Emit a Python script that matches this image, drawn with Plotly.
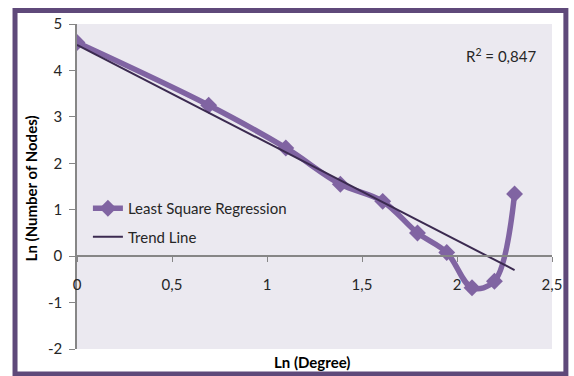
import plotly.graph_objects as go

# Data
ln_degree = [0.0, 0.693, 1.099, 1.386, 1.609, 1.792, 1.946, 2.079, 2.197, 2.303]
ln_nodes = [4.60, 3.25, 2.33, 1.55, 1.18, 0.50, 0.08, -0.68, -0.54, 1.34]
trend_x = [0.0, 2.303]
trend_y = [4.55, -0.30]
r2_text = "R<sup>2</sup> = 0,847"
series_names = ["Least Square Regression", "Trend Line"]
x_title = "Ln (Degree)"
y_title = "Ln (Number of Nodes)"
x_ticks = [0, 0.5, 1, 1.5, 2, 2.5]
x_ticklabels = ["0", "0,5", "1", "1,5", "2", "2,5"]
y_ticks = [-2, -1, 0, 1, 2, 3, 4, 5]
y_ticklabels = ["-2", "-1", "0", "1", "2", "3", "4", "5"]

FONT = "Lato"
PURPLE = "#8064a2"
DARK = "#3b2a50"
FRAME = "#5f497a"
AXIS = "#868686"
TXT = "#262626"

W, H = 574, 376
ML, MR, MT, MB = 77, 18, 24, 27
pw, ph = W - ML - MR, H - MT - MB

def px2x(p):
    return (p - ML) / pw

def px2y(p):
    return (H - MB - p) / ph

fig = go.Figure()
fig.add_trace(go.Scatter(
    x=ln_degree, y=ln_nodes, name=series_names[0], mode="lines+markers",
    line=dict(color=PURPLE, width=5.5, shape="spline", smoothing=1),
    marker=dict(symbol="diamond", size=13, color=PURPLE),
    legendgroup="a",
))
fig.add_trace(go.Scatter(
    x=trend_x, y=trend_y, name=series_names[1], mode="lines",
    line=dict(color=DARK, width=2),
    legendgroup="b",
))

fig.update_layout(
    width=W, height=H,
    margin=dict(l=ML, r=MR, t=MT, b=MB),
    paper_bgcolor="white",
    plot_bgcolor="#ebe9f0",
    font=dict(family=FONT, size=15, color=TXT),
    showlegend=True,
    legend=dict(
        x=px2x(88), y=px2y(192), xanchor="left", yanchor="top",
        bgcolor="rgba(0,0,0,0)", font=dict(size=15, color=TXT),
        traceorder="grouped", tracegroupgap=6,
    ),
    xaxis=dict(
        range=[0, 2.5], tickvals=x_ticks, ticktext=x_ticklabels,
        anchor="free", position=px2y(256),
        showline=True, linecolor=AXIS, linewidth=1.5,
        ticks="outside", ticklen=5, tickcolor=AXIS,
        showgrid=False, zeroline=False,
        ticklabelstandoff=10,
        tickfont=dict(size=15, color=TXT),
    ),
    yaxis=dict(
        range=[-2, 5], tickvals=y_ticks, ticktext=y_ticklabels,
        showline=True, linecolor=AXIS, linewidth=1.5,
        ticks="outside", ticklen=6, tickcolor=AXIS,
        showgrid=False, zeroline=False,
        ticklabelstandoff=4,
        tickfont=dict(size=15, color=TXT),
    ),
    shapes=[dict(
        type="rect", xref="paper", yref="paper",
        x0=px2x(14.5), x1=px2x(570), y0=px2y(374), y1=px2y(10.5),
        line=dict(color=FRAME, width=5), layer="below",
    )],
    annotations=[
        dict(text=r2_text, xref="paper", yref="paper", x=px2x(505), y=px2y(55),
             xanchor="center", yanchor="middle",
             showarrow=False, font=dict(size=15, color=TXT)),
        dict(text="<b>" + x_title + "</b>", xref="paper", yref="paper",
             x=px2x(314), y=px2y(362), xanchor="center", yanchor="middle",
             showarrow=False, font=dict(size=15, color="#000000")),
        dict(text="<b>" + y_title + "</b>", xref="paper", yref="paper",
             x=px2x(31), y=px2y(188), xanchor="center", yanchor="middle",
             showarrow=False, textangle=-90,
             font=dict(size=15, color="#000000")),
    ],
)

fig.write_html("out.html")
